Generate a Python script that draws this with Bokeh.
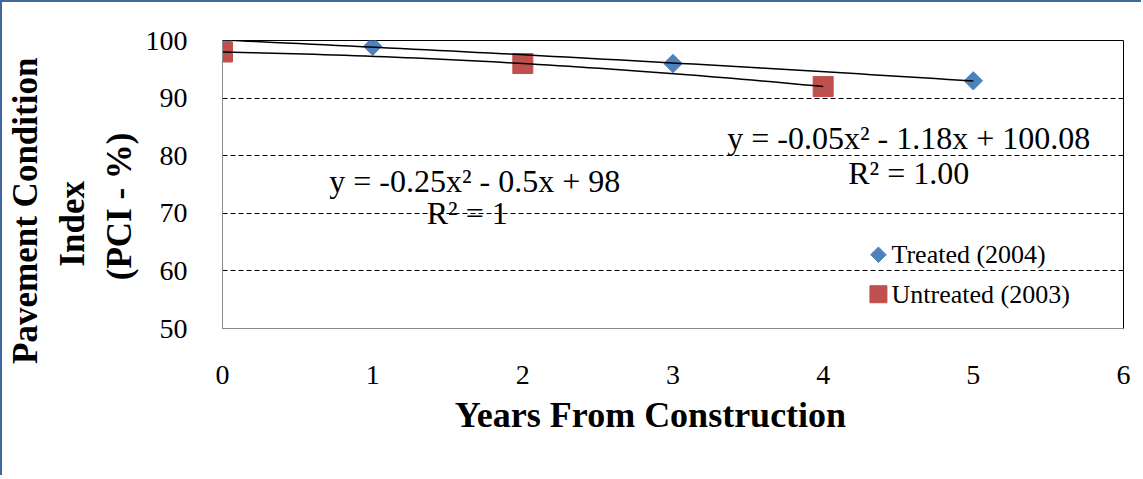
import numpy as np
from bokeh.plotting import figure
from bokeh.models import Label, FixedTicker, Range1d
from bokeh.embed import file_html
from bokeh.resources import INLINE

# ---- data ----
treated_years = [0, 1, 3, 5]
treated_pci = [100, 99, 96, 93]
untreated_years = [0, 2, 4]
untreated_pci = [98, 96, 92]
x_ticks = [0, 1, 2, 3, 4, 5, 6]
y_ticks = [50, 60, 70, 80, 90, 100]
grid_ticks = [60, 70, 80, 90]
eq_untreated = ["y = -0.25x² - 0.5x + 98", "R² = 1"]
eq_treated = ["y = -0.05x² - 1.18x + 100.08", "R² = 1.00"]
legend_labels = ["Treated (2004)", "Untreated (2003)"]
x_title = "Years From Construction"
y_title = ["Pavement Condition", "Index", "(PCI - %)"]

SERIF = "Liberation Serif"
BLUE = "#4F81BD"
RED = "#C0504D"
FRAME = "#41689C"
NB = "\u00a0"

p = figure(width=1141, height=475, output_backend="svg", toolbar_location=None,
           x_range=Range1d(0, 6), y_range=Range1d(50, 100),
           min_border_left=220, min_border_right=20, min_border_top=38, min_border_bottom=149)
p.styles = {"border-left": f"2px solid {FRAME}", "border-top": f"2px solid {FRAME}"}

p.background_fill_color = "white"
p.outline_line_color = "black"
p.outline_line_width = 1

# axes
p.xaxis.ticker = FixedTicker(ticks=x_ticks)
p.yaxis.ticker = FixedTicker(ticks=y_ticks)
for ax in (p.xaxis[0], p.yaxis[0]):
    ax.axis_line_color = "#8C8C8C"
    ax.axis_line_width = 1
    ax.major_tick_line_color = None
    ax.minor_tick_line_color = None
    ax.major_label_text_font = SERIF
    ax.major_label_text_font_size = "28px"
    ax.major_label_text_color = "black"
    ax.axis_label_text_font = SERIF
    ax.axis_label_text_font_style = "bold"
    ax.axis_label_text_color = "black"
p.xaxis.axis_label_text_font_size = "36px"
p.yaxis.axis_label_text_font_size = "35px"
p.xaxis.major_label_standoff = 31
p.yaxis.major_label_standoff = 29
p.xaxis.axis_label = x_title + NB * 5
p.xaxis.axis_label_standoff = 8
p.yaxis.axis_label = "\n".join([y_title[0] + NB * 6, y_title[1] + NB * 9, y_title[2] + NB * 5])
p.yaxis.axis_label_standoff = 4

p.xgrid.grid_line_color = None
p.ygrid.ticker = FixedTicker(ticks=grid_ticks)
p.ygrid.grid_line_color = "black"
p.ygrid.grid_line_dash = "5 3"
p.ygrid.grid_line_width = 1

# markers
r_t = p.scatter(treated_years, treated_pci, marker="square", size=13, angle=np.pi / 4,
                fill_color=BLUE, line_color=BLUE)
r_u = p.scatter(untreated_years, untreated_pci, marker="square", size=20,
                fill_color=RED, line_color=RED)

# polynomial trendlines (fitted from the data)
ct = np.polyfit(treated_years, treated_pci, 2)
cu = np.polyfit(untreated_years, untreated_pci, 2)
xt = np.linspace(min(treated_years), max(treated_years), 60)
xu = np.linspace(min(untreated_years), max(untreated_years), 60)
p.line(xt, np.polyval(ct, xt), line_color="black", line_width=1.5)
p.line(xu, np.polyval(cu, xu), line_color="black", line_width=1.5)


def add_label(x, y, text, size="32px", align="center"):
    p.add_layout(Label(x=x, y=y, text=text, text_font=SERIF, text_font_size=size,
                       text_align=align, text_baseline="middle", text_color="black"))


# equation labels
add_label(1.68, 75.6, eq_untreated[0])
add_label(1.63, 70.0, eq_untreated[1])
add_label(4.57, 83.1, eq_treated[0])
add_label(4.57, 77.0, eq_treated[1])

# legend (manual, inside plot area)
p.scatter([4.368], [62.8], marker="square", size=11, angle=np.pi / 4,
          fill_color=BLUE, line_color=BLUE)
p.scatter([4.368], [55.95], marker="square", size=17, fill_color=RED, line_color=RED)
add_label(4.455, 62.8, legend_labels[0], size="26px", align="left")
add_label(4.455, 55.95, legend_labels[1], size="26px", align="left")

open("out.html", "w").write(file_html(p, INLINE))
